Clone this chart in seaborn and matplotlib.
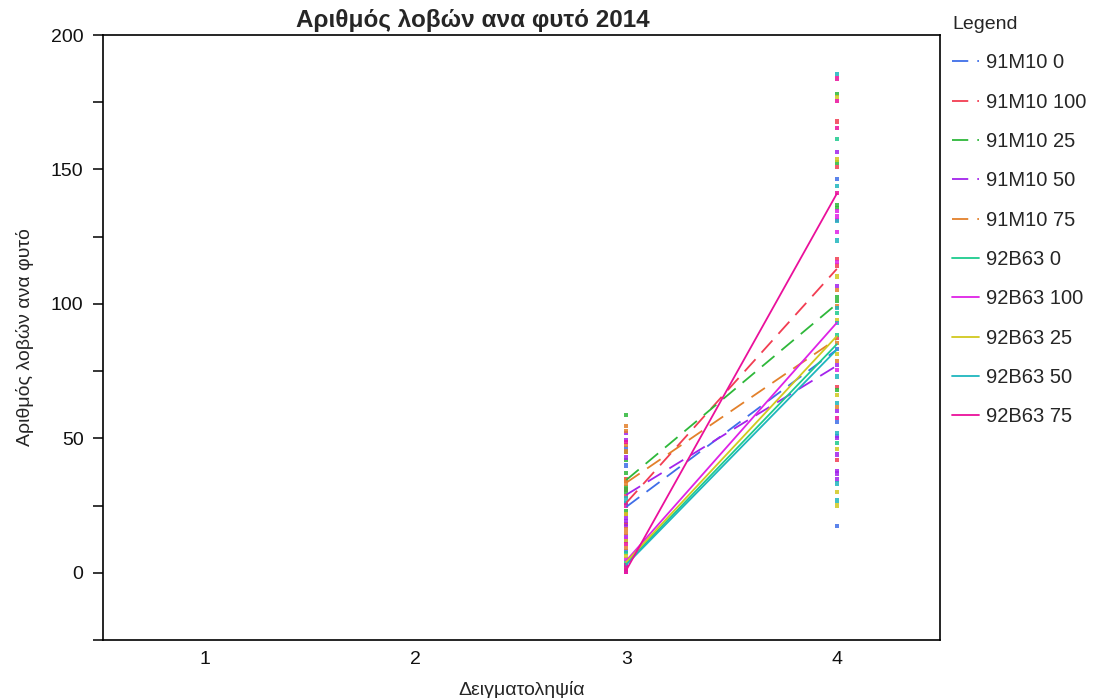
import matplotlib
matplotlib.use("Agg")
import matplotlib.pyplot as plt
from matplotlib.ticker import MultipleLocator, FixedLocator
import seaborn as sns
import pandas as pd

# Treatment groups (hybrid + dose)
groups = ["91M10 0", "91M10 100", "91M10 25", "91M10 50", "91M10 75",
          "92B63 0", "92B63 100", "92B63 25", "92B63 50", "92B63 75"]

colors = ["#3F6EE8", "#F23D52", "#2EB83A", "#A323EC", "#E3802B",
          "#1DCB8E", "#DE22E6", "#D1C81F", "#1FB6BE", "#EA109B"]

# Group means per sampling (sampling 3 and 4)
mean_s3 = [24.5, 26.0, 34.5, 29.0, 33.5, 3.5, 4.5, 4.0, 3.0, 1.0]
mean_s4 = [83.0, 113.0, 100.0, 77.0, 87.0, 85.0, 93.0, 88.0, 83.0, 141.0]

# Individual plant counts per group
obs_s3 = [
    [46.3, 39.9, 26.1, 18.0, 8.0, 12.0],
    [28.7, 22.0, 31.0, 35.0, 18.0],
    [58.8, 44.8, 41.8, 37.0, 31.7, 29.9, 23.1],
    [51.9, 49.3, 42.9, 20.5, 19.4, 17.5, 13.8],
    [54.5, 52.6, 47.4, 45.1, 34.3, 33.2, 16.4, 14.9, 9.3],
    [7.5, 2.0, 4.0, 1.0],
    [12.7, 5.2, 2.0, 0.5],
    [22.0, 11.9, 6.3, 1.5],
    [27.6, 26.1, 3.0, 1.0],
    [48.5, 25.0, 10.8, 3.0, 1.5, 0.5],
]
obs_s4 = [
    [146.6, 83.2, 56.1, 51.0, 17.5],
    [167.8, 150.9, 116.7, 114.3, 87.3, 69.1, 41.8],
    [178.0, 152.6, 136.7, 135.8, 102.5, 101.0, 67.9],
    [156.5, 106.5, 77.2, 60.1, 50.0, 44.0, 38.0, 36.9, 34.7],
    [105.2, 99.0, 85.4, 78.8, 61.7],
    [161.3, 88.4, 48.2, 96.6],
    [134.4, 132.5, 131.3, 126.6, 115.6, 75.4],
    [176.9, 153.7, 110.2, 94.0, 81.3, 66.0, 45.9, 30.0, 25.0],
    [185.4, 143.7, 130.7, 123.6, 98.5, 92.9, 73.0, 63.0, 52.0, 33.2, 26.9],
    [183.8, 175.5, 165.4, 141.3, 57.5],
]

x_ticks = [1, 2, 3, 4]
title = "Αριθμός λοβών ανα φυτό 2014"
x_label = "Δειγματοληψία"
y_label = "Αριθμός λοβών ανα φυτό"

# Long-format tables
means = pd.DataFrame(
    [(g, 3, a) for g, a in zip(groups, mean_s3)] +
    [(g, 4, b) for g, b in zip(groups, mean_s4)],
    columns=["group", "sampling", "value"])
points = pd.DataFrame(
    [(g, 3, v) for g, vals in zip(groups, obs_s3) for v in vals] +
    [(g, 4, v) for g, vals in zip(groups, obs_s4) for v in vals],
    columns=["group", "sampling", "value"])

palette = dict(zip(groups, colors))
dashes = {g: ((9, 5) if g.startswith("91M10") else "") for g in groups}

sns.set_theme(style="ticks")
plt.rcParams["font.family"] = ["Liberation Sans", "DejaVu Sans"]

fig = plt.figure(figsize=(10.96, 6.98), dpi=100)
ax = fig.add_axes([103 / 1096, 1 - 640 / 698, (940 - 103) / 1096, (640 - 35) / 698])

sns.lineplot(data=means, x="sampling", y="value", hue="group", style="group",
             hue_order=groups, style_order=groups, palette=palette,
             dashes=dashes, linewidth=1.3, ax=ax, legend=True)
sns.scatterplot(data=points, x="sampling", y="value", hue="group",
                hue_order=groups, palette=palette, marker="s", s=9,
                linewidth=0, alpha=0.85, ax=ax, legend=False)

ax.set_xlim(0.515, 4.49)
ax.set_ylim(-25, 200)
ax.xaxis.set_major_locator(FixedLocator(x_ticks))
ax.yaxis.set_major_locator(MultipleLocator(50))
ax.yaxis.set_minor_locator(MultipleLocator(25))
ax.tick_params(axis="y", which="both", length=7, width=1.1, color="black",
               labelsize=14, pad=7, labelcolor="#111111")
ax.tick_params(axis="x", which="both", length=0, labelsize=14, pad=8,
               labelcolor="#111111")
for sp in ax.spines.values():
    sp.set_linewidth(1.2)
    sp.set_color("black")
    sp.set_visible(True)

ax.set_xlabel(x_label, fontsize=14, labelpad=9)
ax.set_ylabel(y_label, fontsize=14, labelpad=12)

fig.text(473 / 1096, 1 - 21 / 698, title, ha="center", va="center",
         fontsize=17.5, fontweight="bold")

handles, labels = ax.get_legend_handles_labels()
leg = ax.legend(handles, labels, title="Legend", loc="upper left",
                bbox_to_anchor=(944 / 1096, 1 - 8 / 698),
                bbox_transform=fig.transFigure, frameon=False,
                fontsize=14.5, title_fontsize=14, labelspacing=1.01,
                handlelength=1.35, handletextpad=0.35, borderaxespad=0)
leg._legend_box.align = "left"

fig.savefig("out.png", dpi=100)
